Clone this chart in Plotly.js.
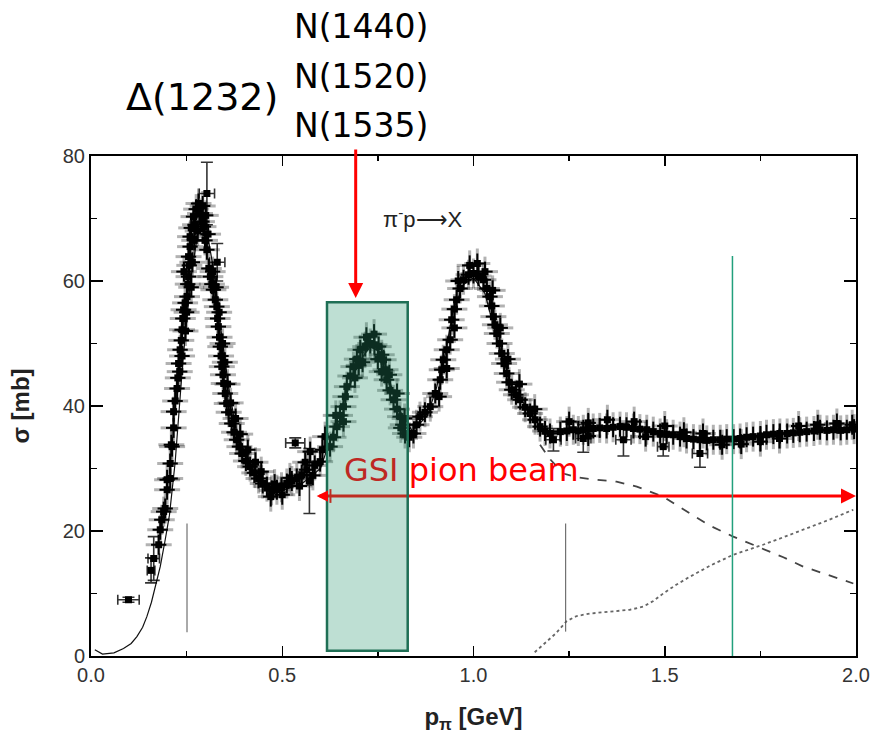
<!DOCTYPE html>
<html>
<head>
<meta charset="utf-8">
<script src="https://cdn.plot.ly/plotly-3.0.1.min.js"></script>
<style>html,body{margin:0;padding:0;background:#fff;}</style>
</head>
<body>
<div id="chart" style="width:873px;height:736px;"></div>
<script>
// ---- measured cross-section points (p_pi [GeV], sigma [mb]) ----
const sigmaX = [
  0.177,0.181,0.185,0.190,0.194,0.199,0.199,0.207,0.207,0.210,0.212,0.216,0.216,0.220,0.225,0.227,0.229,0.233,0.236,0.238,
  0.240,0.242,0.243,0.246,0.251,0.253,0.255,0.257,0.255,0.259,0.259,0.262,0.262,0.268,0.272,0.275,0.281,0.285,0.290,0.294,
  0.298,0.303,0.308,0.312,0.316,0.320,0.325,0.329,0.331,0.333,0.336,0.338,0.340,0.342,0.345,0.347,0.351,0.355,0.360,0.368,
  0.374,0.381,0.388,0.395,0.405,0.416,0.427,0.438,0.449,0.460,0.472,0.486,0.498,0.512,0.525,0.538,0.551,0.564,0.573,0.585,
  0.599,0.605,0.612,0.625,0.634,0.643,0.651,0.660,0.665,0.669,0.678,0.686,0.695,0.704,0.717,0.730,0.741,0.752,0.760,0.765,
  0.770,0.773,0.782,0.791,0.800,0.808,0.815,0.821,0.832,0.843,0.851,0.860,0.873,0.887,0.900,0.913,0.917,0.921,0.930,0.939,
  0.943,0.950,0.956,0.965,0.974,0.987,1.000,1.013,1.026,1.035,1.043,1.048,1.052,1.056,1.061,1.068,1.074,1.080,1.087,1.093,
  1.100,1.111,1.122,1.135,1.148,1.161,1.174,1.187,1.200,1.227,1.244,1.261,1.274,1.287,1.300,1.313,1.330,1.348,1.365,1.383,
  1.400,1.418,1.435,1.453,1.470,1.488,1.505,1.522,1.540,1.557,1.575,1.592,1.610,1.627,1.645,1.662,1.680,1.697,1.714,1.731,
  1.750,1.766,1.784,1.801,1.820,1.836,1.853,1.871,1.890,1.906,1.924,1.941,1.960,1.976,1.995
];
const sigmaY = [
  17.8,20.2,21.8,23.1,23.6,26.6,28.2,28.4,30.8,33.8,33.5,36.5,39.1,40.8,42.8,44.5,46.8,49.0,50.5,52.2,
  54.0,55.4,61.5,56.5,57.5,59.5,60.7,62.5,63.9,65.5,67.1,68.5,59.0,70.3,69.0,71.5,72.4,70.8,69.5,68.7,
  66.5,65.0,62.0,60.7,59.5,58.6,57.0,55.9,54.0,52.7,51.0,49.5,48.0,46.3,45.0,43.6,42.0,40.4,39.0,37.2,
  35.8,34.6,33.5,32.4,31.2,30.3,29.3,28.4,27.6,27.1,26.5,26.6,27.0,27.6,28.0,28.4,29.0,29.8,32.7,30.5,
  31.1,33.0,35.1,33.5,35.0,36.7,38.5,39.9,41.5,43.1,44.8,46.3,47.5,49.0,49.5,50.0,49.8,49.5,48.2,47.4,
  45.8,44.2,42.5,41.0,39.5,38.3,37.0,35.6,35.0,35.6,37.0,38.3,39.0,39.9,42.0,44.2,45.8,47.4,49.0,50.6,
  53.8,55.5,57.0,58.8,60.2,61.0,61.2,60.8,60.2,58.8,57.5,56.0,54.3,53.0,51.6,50.0,48.4,46.8,45.2,43.8,
  42.6,41.8,41.0,39.8,38.8,37.8,36.7,36.0,35.6,35.9,36.0,36.2,36.0,36.2,36.3,36.4,36.5,36.4,36.6,36.7,
  36.6,36.4,36.3,36.2,35.9,35.6,35.5,35.4,35.1,34.8,34.7,34.6,34.5,34.6,34.6,34.7,34.7,34.8,35.0,35.1,
  35.2,35.4,35.5,35.6,35.6,35.7,35.8,35.9,36.0,36.2,36.1,36.2,36.1,36.2,36.3
];
const extraX = [
  0.232,0.238,0.247,0.250,0.265,0.270,0.279,0.292,0.300,0.306,0.318,0.327,0.335,0.344,0.350,0.357,0.365,0.378,0.390,0.410,
  0.430,0.445,0.470,0.480,0.500,0.520,0.545,0.560,0.580,0.640,0.660,0.690,0.700,0.710,0.720,0.740,0.750,0.760,0.780,0.800,
  0.810,0.820,0.910,0.930,0.950,0.960,0.990,1.010,1.030,1.050,1.070,1.090,1.120,1.160,1.250,1.300,1.300,1.350,1.420,1.450,
  1.500,1.550,1.600,1.650,1.700,1.750,1.800,1.850,1.900,1.950,1.990
];
const extraY = [
  45.5,48.0,52.0,55.0,63.0,66.5,68.0,72.0,70.5,67.5,61.5,59.0,55.0,50.0,47.0,43.5,40.5,38.0,35.5,33.0,
  31.0,29.5,25.5,27.5,25.8,28.5,27.2,31.0,28.9,38.5,37.5,44.5,46.5,47.0,51.0,51.5,47.5,45.5,45.0,42.0,
  36.5,38.0,41.5,46.0,52.5,60.0,62.5,62.8,61.5,58.5,52.5,47.5,43.5,39.5,37.5,37.3,35.2,37.8,37.5,35.1,
  36.8,35.8,35.6,33.8,33.9,34.3,34.8,36.8,37.0,37.2,37.0
];
// points drawn with their own (larger) error bars
const oddX  = [0.098, 0.157, 0.164, 0.303, 0.330, 0.534, 0.571, 1.209, 1.287, 1.392, 1.496, 1.592];
const oddY  = [9.0,   13.7,  15.6,  74.0,  63.0,  34.1,  28.0,  34.6,  34.8,  34.6,  33.5,  32.4];
const oddEx = [0.028, 0.010, 0.015, 0.020, 0.020, 0.025, 0.004, 0.020, 0.020, 0.020, 0.015, 0.020];
const oddEy = [0.4,   2.0,   3.5,   5.0,   3.0,   0.8,   5.2,   1.8,   2.2,   2.6,   1.5,   2.2];

// model curves
const totalX = [0.010,0.030,0.060,0.085,0.105,0.120,0.135,0.146,0.158,0.168,0.181,0.194,0.205,0.220,0.240,0.260,0.280,0.300,0.320,0.340,0.360,0.380,0.420,0.460,0.500,0.550,0.600,0.650,0.700,0.730,0.760,0.800,0.840,0.880,0.904,0.925,0.947,0.975,1.000,1.030,1.060,1.100,1.157,1.190,1.220];
const totalY = [1.0,0.3,0.5,1.2,2.0,3.1,4.6,6.3,8.6,11.1,14.3,18.6,22.5,31.0,47.0,60.0,68.0,69.0,62.0,52.0,43.0,36.0,30.0,27.0,26.5,27.5,30.0,39.0,47.0,49.5,48.5,40.0,36.0,38.5,43.1,48.0,55.4,59.5,60.5,58.0,51.0,43.0,38.3,35.1,35.2];
const dashX = [1.174,1.200,1.235,1.270,1.305,1.340,1.374,1.427,1.496,1.566,1.620,1.679,1.757,1.810,1.862,1.930,1.993];
const dashY = [33.8,31.5,29.2,28.6,28.3,28.1,27.9,27.1,25.5,22.8,20.8,19.1,17.2,15.8,14.3,12.9,11.6];
const dotX = [1.160,1.187,1.215,1.244,1.270,1.305,1.350,1.409,1.444,1.470,1.496,1.530,1.566,1.620,1.679,1.720,1.757,1.810,1.862,1.930,1.993];
const dotY = [0.6,2.0,3.6,5.6,6.4,6.8,7.1,7.4,7.9,8.8,10.0,11.4,12.7,14.5,16.2,17.0,17.8,19.0,20.2,21.8,23.4];
// thresholds marked by thin vertical lines
const markX = [0.251, 0.251, null, 1.241, 1.241];
const markY = [3.8, 21.2, null, 3.9, 21.2];

// overlay geometry (data units)
const boxX = [0.617, 0.828], boxY = [0.85, 56.6];
const greenLineX = 1.677, greenLineTop = 64;
const beamY = 25.6, beamLeft = 0.590, beamRight = 2.0;
const arrowX = 0.692, arrowTipY = 57.3;

const allX = sigmaX.concat(extraX), allY = sigmaY.concat(extraY);
const blur = {type:'constant', color:'rgba(0,0,0,0.3)', thickness:3, width:0};
const ebar = {type:'constant', color:'#000', thickness:2, width:0};
const traces = [
  {x: totalX, y: totalY, mode:'lines', line:{color:'#111', width:1.2}, hoverinfo:'skip'},
  {x: dashX, y: dashY, mode:'lines', line:{color:'#444', width:1.8, dash:'dash'}, hoverinfo:'skip'},
  {x: dotX, y: dotY, mode:'lines', line:{color:'#666', width:1.8, dash:'dot'}, hoverinfo:'skip'},
  {x: markX, y: markY, mode:'lines', line:{color:'#555', width:1}, hoverinfo:'skip'},
  {x: allX, y: allY, mode:'markers', marker:{symbol:'square', size:1, color:'rgba(0,0,0,0)'},
   error_x: Object.assign({}, blur, {value:0.034}), error_y: Object.assign({}, blur, {value:2.4})},
  {x: allX, y: allY, mode:'markers', marker:{symbol:'square', size:7, color:'#000'},
   error_x: Object.assign({}, ebar, {value:0.02}), error_y: Object.assign({}, ebar, {value:1.6})},
  {x: oddX, y: oddY, mode:'markers', marker:{symbol:'square', size:7, color:'#000'},
   error_x: {type:'data', array: oddEx, color:'rgba(0,0,0,0.8)', thickness:1.6, width:5},
   error_y: {type:'data', array: oddEy, color:'rgba(0,0,0,0.8)', thickness:1.6, width:6}}
];

const axisFont = {family:'Liberation Sans, Arial, sans-serif', size:20, color:'#333'};
const layout = {
  width:873, height:736,
  margin:{l:91, r:17, t:156, b:80},
  paper_bgcolor:'#fff', plot_bgcolor:'#fff',
  showlegend:false,
  xaxis:{range:[0,2], tickvals:[0,0.5,1,1.5,2], tickformat:'.1f', ticks:'inside', ticklen:10, tickwidth:1.5, tickcolor:'#000',
    minor:{dtick:0.25, tick0:0, ticks:'inside', ticklen:5, tickwidth:1.5, tickcolor:'#000'},
    showline:true, linewidth:2, linecolor:'#000', mirror:'allticks', showgrid:false, zeroline:false,
    tickfont:axisFont,
    title:{text:'p<sub>π</sub> [GeV]', font:{family:'Liberation Sans, Arial, sans-serif', size:24, color:'#222', weight:'bold'}, standoff:23}},
  yaxis:{range:[0,80], tickvals:[0,20,40,60,80], ticks:'inside', ticklen:12, tickwidth:1.5, tickcolor:'#000',
    minor:{dtick:10, tick0:0, ticks:'inside', ticklen:6, tickwidth:1.5, tickcolor:'#000'},
    showline:true, linewidth:2, linecolor:'#000', mirror:'allticks', showgrid:false, zeroline:false,
    tickfont:axisFont,
    title:{text:'σ [mb]', font:{family:'Liberation Sans, Arial, sans-serif', size:24, color:'#222', weight:'bold'}, standoff:26}},
  shapes:[
    {type:'line', layer:'above', xref:'x', yref:'y', x0:beamLeft+0.025, x1:beamRight-0.03, y0:beamY, y1:beamY, line:{color:'#ff0000', width:3}},
    {type:'line', layer:'above', xref:'x', yref:'y', x0:0.626, x1:0.626, y0:beamY-1.1, y1:beamY+1.1, line:{color:'#ff0000', width:2}},
    {type:'rect', layer:'above', xref:'x', yref:'y', x0:boxX[0], x1:boxX[1], y0:boxY[0], y1:boxY[1],
     fillcolor:'rgba(40,150,110,0.30)', line:{color:'#1f6f55', width:2.5}},
    {type:'line', layer:'above', xref:'x', yref:'y', x0:greenLineX, x1:greenLineX, y0:0, y1:greenLineTop, line:{color:'#22a07c', width:1.5}}
  ],
  annotations:[
    {xref:'paper', yref:'paper', x:0.1454, y:1.118, xanchor:'center', yanchor:'middle', text:'Δ(1232)', showarrow:false, font:{family:'DejaVu Sans', size:38, color:'#000'}},
    {xref:'paper', yref:'paper', x:0.3526, y:1.26, xanchor:'center', yanchor:'middle', text:'N(1440)', showarrow:false, font:{family:'DejaVu Sans', size:33, color:'#000'}},
    {xref:'paper', yref:'paper', x:0.3526, y:1.16, xanchor:'center', yanchor:'middle', text:'N(1520)', showarrow:false, font:{family:'DejaVu Sans', size:33, color:'#000'}},
    {xref:'paper', yref:'paper', x:0.3526, y:1.06, xanchor:'center', yanchor:'middle', text:'N(1535)', showarrow:false, font:{family:'DejaVu Sans', size:33, color:'#000'}},
    {xref:'paper', yref:'paper', x:0.4336, y:0.876, xanchor:'center', yanchor:'middle', text:'π<sup>-</sup>p⟶X', showarrow:false, font:{family:'Liberation Sans, Arial, sans-serif', size:22, color:'#222'}},
    {xref:'paper', yref:'paper', x:0.4845, y:0.372, xanchor:'center', yanchor:'middle', text:'<span style="color:rgb(190,40,35)">GSI</span> pion beam', showarrow:false, font:{family:'DejaVu Sans', size:32, color:'#ff0000'}},
    {xref:'x', yref:'y', x:arrowX, y:arrowTipY, text:'', showarrow:true, ax:0, ay:-150, arrowhead:2, arrowsize:1, arrowwidth:3, arrowcolor:'#ff0000'},
    {xref:'x', yref:'y', x:beamRight, y:beamY, text:'', showarrow:true, ax:-16, ay:0, arrowhead:2, arrowsize:1, arrowwidth:3, arrowcolor:'#ff0000'},
    {xref:'x', yref:'y', x:beamLeft, y:beamY, text:'', showarrow:true, ax:12, ay:0, arrowhead:2, arrowsize:0.75, arrowwidth:3, arrowcolor:'#ff0000'}
  ]
};
Plotly.newPlot('chart', traces, layout, {staticPlot:true});
</script>
</body>
</html>
